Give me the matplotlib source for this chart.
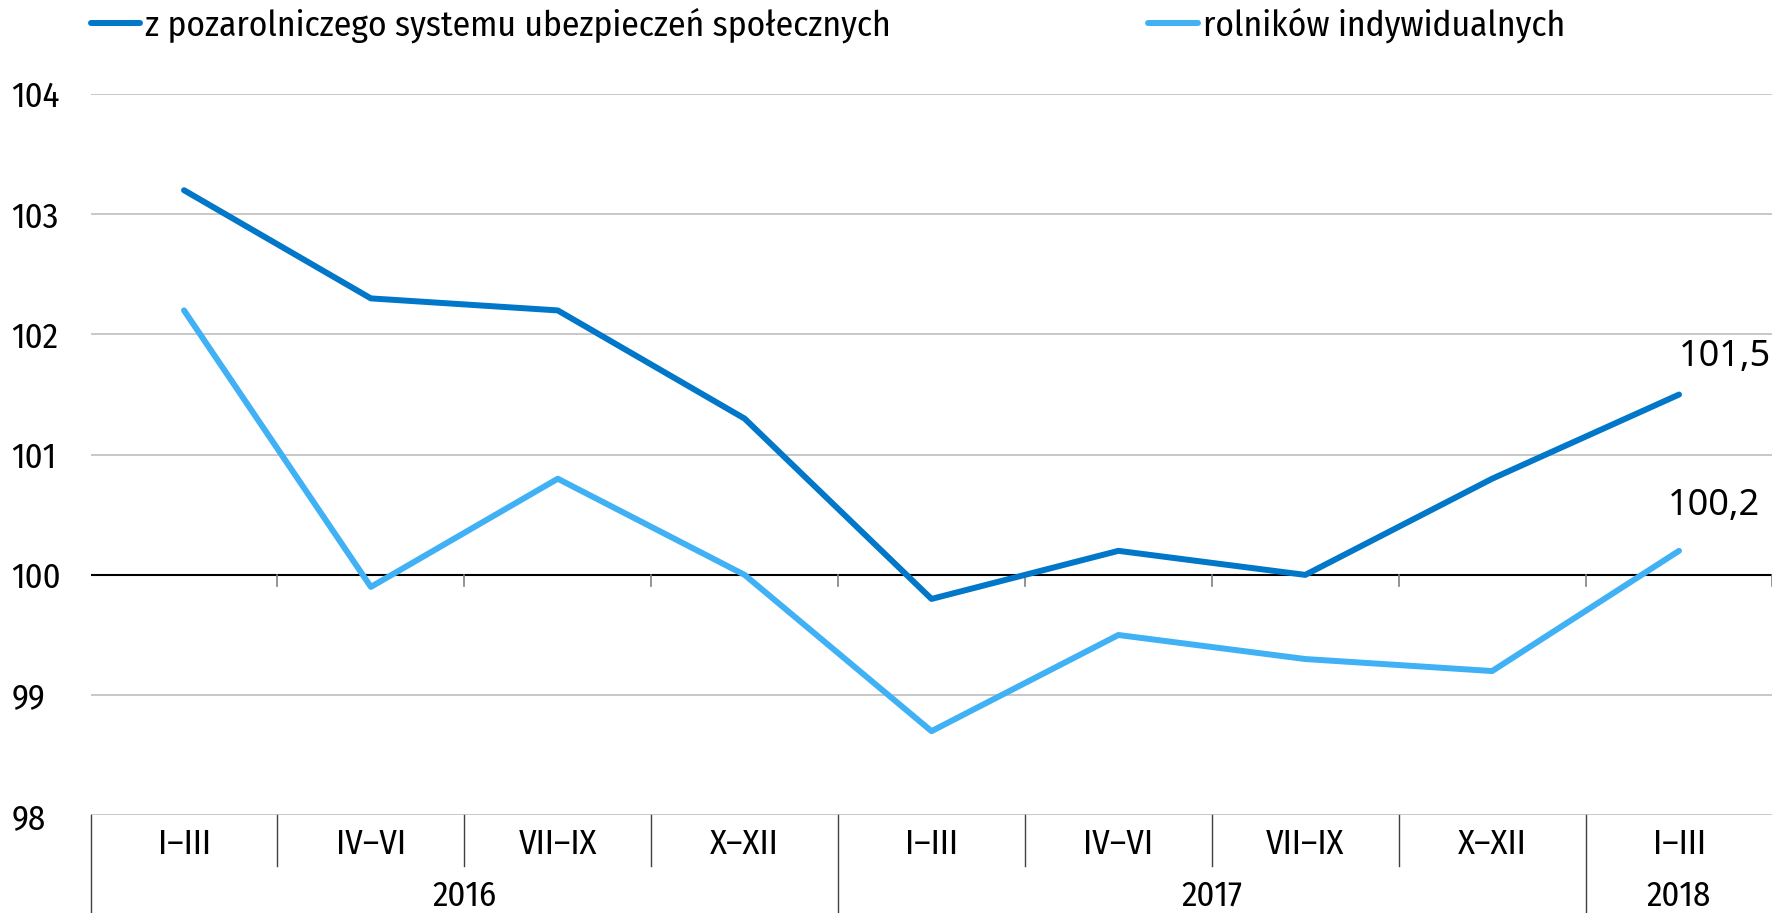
import matplotlib.pyplot as plt
from matplotlib.lines import Line2D
from matplotlib.font_manager import FontProperties

# data
quarters = ['I–III', 'IV–VI', 'VII–IX', 'X–XII', 'I–III', 'IV–VI', 'VII–IX', 'X–XII', 'I–III']
years = ['2016', '2017', '2018']
year_len = [4, 4, 1]
nonagri = [103.2, 102.3, 102.2, 101.3, 99.8, 100.2, 100.0, 100.8, 101.5]
farmers = [102.2, 99.9, 100.8, 100.0, 98.7, 99.5, 99.3, 99.2, 100.2]
names = ['z pozarolniczego systemu ubezpieczeń społecznych', 'rolników indywidualnych']

plt.rcParams['font.family'] = ['Fira Sans Condensed', 'DejaVu Sans']

dark = '#0077c8'
light = '#41b1f5'
fs = 25

fig = plt.figure(figsize=(17.76, 9.13), dpi=100)
ax = fig.add_axes([0.051, 0.107, 0.947, 0.790])

x = list(range(len(quarters)))
ax.plot(x, nonagri, color=dark, lw=4.3, solid_capstyle='round', label=names[0], zorder=3)
ax.plot(x, farmers, color=light, lw=4.3, solid_capstyle='round', label=names[1], zorder=3)

ax.set_xlim(-0.5, len(quarters) - 0.5)
ax.set_ylim(98, 104)
ax.set_yticks(range(98, 105))
ax.yaxis.grid(True, color='#bfbfbf', lw=1.2)
ax.set_axisbelow(True)
for s in ax.spines.values():
    s.set_visible(False)
ax.tick_params(axis='y', length=0, labelsize=fs, pad=57)
for lab in ax.get_yticklabels():
    lab.set_horizontalalignment('left')
ax.set_xticks([])

# axis line at 100 with small ticks at category boundaries
tr = ax.get_xaxis_transform()
ax.axhline(100, color='black', lw=1.5, zorder=2)
for b in range(1, len(quarters) + 1):
    ax.plot([b - 0.5, b - 0.5], [100, 99.91], color='#808080', lw=1.2, zorder=2)

# category table under the axis
for i, q in enumerate(quarters):
    ax.text(i, -0.04, q, transform=tr, ha='center', va='center', fontsize=fs)
bounds = [0]
for n in year_len:
    bounds.append(bounds[-1] + n)
for b in range(len(quarters) + 1):
    x0 = b - 0.5
    if b in bounds[:-1]:
        ax.add_line(Line2D([x0, x0], [0, -0.14], transform=tr, color='#404040', lw=1, clip_on=False))
    elif b < len(quarters):
        ax.add_line(Line2D([x0, x0], [0, -0.07], transform=tr, color='#404040', lw=1, clip_on=False))
for y, n, s in zip(years, year_len, bounds):
    ax.text(s + (n - 1) / 2, -0.112, y, transform=tr, ha='center', va='center', fontsize=fs)

# end labels
endfont = FontProperties(family='Noto Sans', size=26, weight='normal', stretch='normal')
ax.annotate('101,5', (x[-1], nonagri[-1]), xytext=(33, 27), textcoords='offset points',
            ha='center', va='center', fontproperties=endfont)
ax.annotate('100,2', (x[-1], farmers[-1]), xytext=(25, 32), textcoords='offset points',
            ha='center', va='center', fontproperties=endfont)

ax.legend(loc='center left', bbox_to_anchor=(0.0, 1.096), ncol=2, frameon=False,
          fontsize=25.5, handlelength=1.4, handletextpad=0.15, columnspacing=7.25,
          borderaxespad=0, borderpad=0)

fig.savefig('out.png', dpi=100)
